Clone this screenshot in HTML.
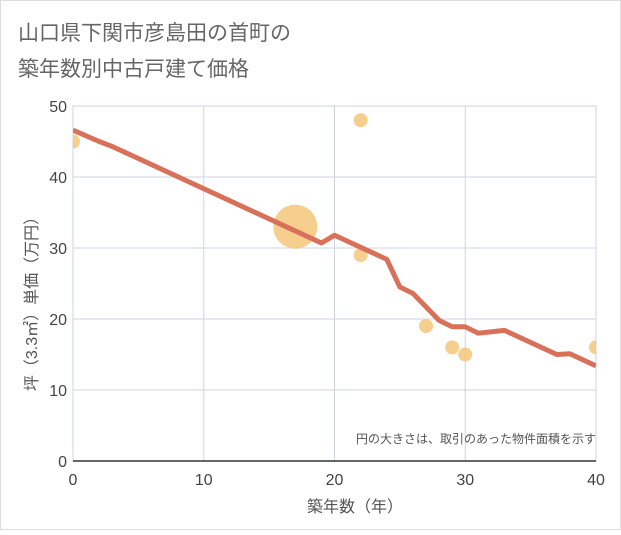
<!DOCTYPE html>
<html><head><meta charset="utf-8"><style>
body{margin:0;background:#fff;}
#wrap{position:relative;width:621px;height:530px;font-family:"Liberation Sans","Noto Sans CJK JP",sans-serif;}
</style></head><body>
<div id="wrap">
<svg id="chart" width="621" height="530" xmlns="http://www.w3.org/2000/svg">
<defs><clipPath id="plotclip"><rect x="73" y="106" width="523" height="355"/></clipPath></defs>
<rect x="0.5" y="0.5" width="620" height="529" fill="#fff" stroke="#ddd"/>
<text x="18" y="40" font-size="21" fill="#666" font-family="Liberation Sans, Noto Sans CJK JP, sans-serif">山口県下関市彦島田の首町の</text>
<text x="18" y="76" font-size="21" fill="#666" font-family="Liberation Sans, Noto Sans CJK JP, sans-serif">築年数別中古戸建て価格</text>
<g id="grid"></g><g id="marks" clip-path="url(#plotclip)"></g><g id="axes"></g>
<text x="596" y="443" font-size="12" fill="#555" text-anchor="end" font-family="Liberation Sans, Noto Sans CJK JP, sans-serif">円の大きさは、取引のあった物件面積を示す</text>
<text x="355" y="512" font-size="16" fill="#555" text-anchor="middle" font-family="Liberation Sans, Noto Sans CJK JP, sans-serif">築年数（年）</text>
<text transform="translate(37,300) rotate(-90)" font-size="16" fill="#555" text-anchor="middle" font-family="Liberation Sans, Noto Sans CJK JP, sans-serif">坪（3.3㎡）単価（万円）</text>
</svg></div>
<script>
const xTicks=[0,10,20,30,40];
const yTicks=[0,10,20,30,40,50];
const lineX=[0,2,3,19,20,24,25,26,28,29,30,31,33,37,38,40];
const lineY=[46.6,45,44.3,30.7,31.8,28.4,24.5,23.6,19.8,18.9,18.9,18,18.4,15,15.1,13.4];
const ptX=[0,17,22,22,27,29,30,40];
const ptY=[45,33,48,29,19,16,15,16];
const ptR=[7,22,7,7,7,7,7,7];
const L=73,R=596,T=106,B=461;
const sx=v=>L+(v-0)/40*(R-L);
const sy=v=>B-(v/50)*(B-T);
const NS="http://www.w3.org/2000/svg";
function mk(tag,attrs,parent){const e=document.createElementNS(NS,tag);for(const k in attrs)e.setAttribute(k,attrs[k]);parent.appendChild(e);return e;}
const grid=document.getElementById('grid'),marks=document.getElementById('marks'),axes=document.getElementById('axes');
const bg=mk('rect',{x:L,y:T,width:R-L,height:B-T,fill:'#fff',stroke:'#ccc'},grid);


xTicks.forEach(t=>{
 const g=mk('line',{x1:sx(t),x2:sx(t),y1:T,y2:B,stroke:'#ccd6e0'},grid);
 
 
 const tx=mk('text',{x:sx(t),y:B+24,'font-size':16,fill:'#444','text-anchor':'middle'},axes);
 tx.textContent=t;
 
 
});
yTicks.forEach(t=>{
 const g=mk('line',{x1:L,x2:R,y1:sy(t),y2:sy(t),stroke:'#ccd6e0'},grid);
 
 
 const tx=mk('text',{x:L-6,y:sy(t)+6,'font-size':16,fill:'#444','text-anchor':'end'},axes);
 tx.textContent=t;
 
 
});
const ax=mk('line',{x1:L,x2:R,y1:B,y2:B,stroke:'#333','stroke-width':1.5},axes);


ptX.forEach((x,i)=>{
 const c=mk('circle',{cx:sx(x),cy:sy(ptY[i]),r:ptR[i],fill:'#f5c57a','fill-opacity':0.85},marks);
 
 
});
const d=lineX.map((x,i)=>(i?'L':'M')+sx(x)+','+sy(lineY[i])).join(' ');
const p=mk('path',{d:d,fill:'none',stroke:'#d9705a','stroke-width':5,'stroke-linejoin':'round'},marks);


</script>
</body></html>
